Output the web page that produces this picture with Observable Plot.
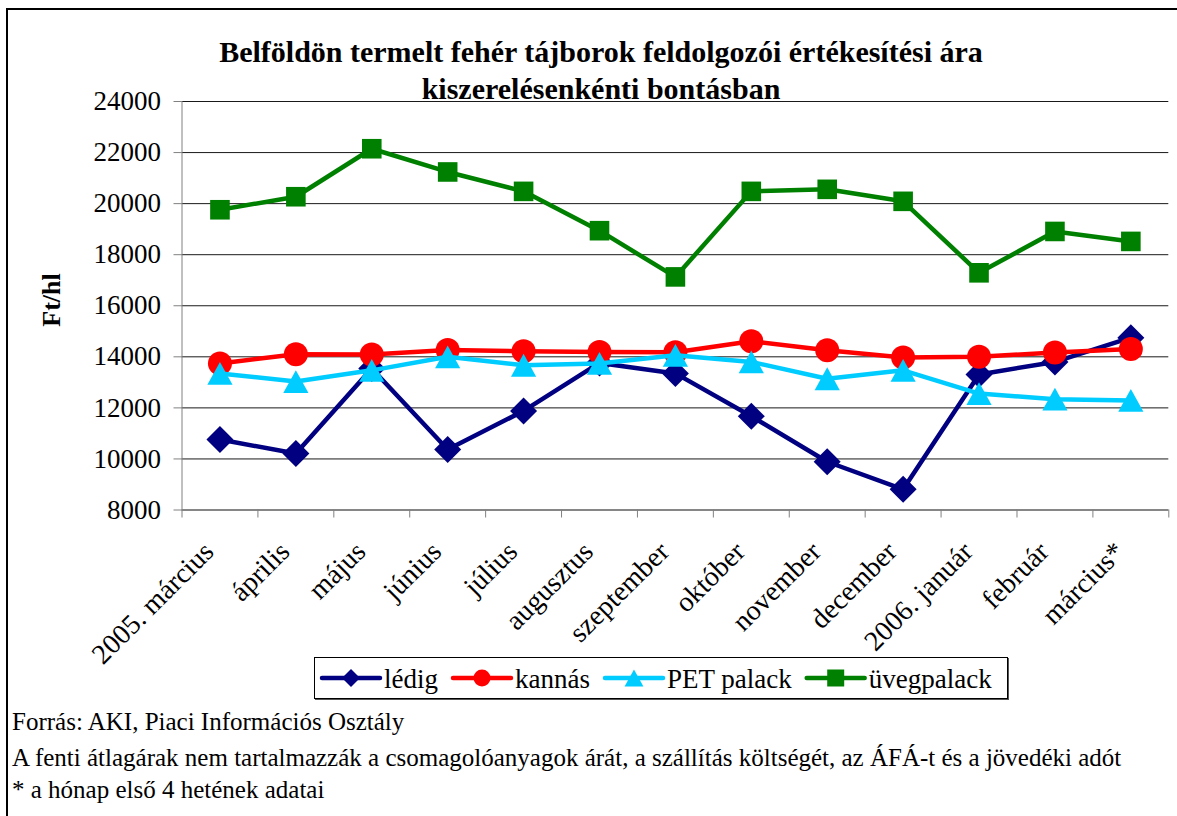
<!DOCTYPE html>
<html>
<head>
<meta charset="utf-8">
<script src="https://cdn.jsdelivr.net/npm/d3@7"></script>
<script src="https://cdn.jsdelivr.net/npm/@observablehq/plot@0.6"></script>
<style>
  body { margin: 0; background: #fff; }
  #wrap { position: relative; width: 1177px; height: 816px; overflow: hidden; background: #fff;
          font-family: "Liberation Serif", "Times New Roman", serif; color: #000; }
  #border { position: absolute; left: 6px; top: 8px; width: 1200px; height: 900px;
            border-left: 2px solid #000; border-top: 2px solid #000; }
  #chart { position: absolute; left: 0; top: 0; }
  .title { position: absolute; left: 0; width: 1202px; text-align: center; font-weight: bold;
           font-size: 30px; line-height: 30px; white-space: nowrap; }
  #ylabel { position: absolute; left: 52px; top: 300px; transform: translate(-50%, -50%) rotate(-90deg);
            font-weight: bold; font-size: 26px; line-height: 26px; white-space: nowrap; }
  .foot { position: absolute; left: 12px; font-size: 25px; line-height: 25px; white-space: nowrap; }
  #legend { position: absolute; left: 314px; top: 657px; width: 694px; height: 42px; box-sizing: border-box;
            border: 1px solid #000; box-shadow: 1px 1px 0 #555; background: #fff; }
</style>
</head>
<body>
<div id="wrap">
  <div id="border"></div>
  <div id="chart"></div>
  <div class="title" style="top:37px">Belföldön termelt fehér tájborok feldolgozói értékesítési ára</div>
  <div class="title" style="top:74px">kiszerelésenkénti bontásban</div>
  <div id="ylabel">Ft/hl</div>
  <div id="legend"></div>
  <div class="foot" style="top:709px">Forrás: AKI, Piaci Információs Osztály</div>
  <div class="foot" style="top:745px">A fenti átlagárak nem tartalmazzák a csomagolóanyagok árát, a szállítás költségét, az ÁFÁ-t és a jövedéki adót</div>
  <div class="foot" style="top:777px">* a hónap első 4 hetének adatai</div>
</div>
<script>
// ---- data ----
const months = ["2005. március", "április", "május", "június", "július", "augusztus", "szeptember",
                "október", "november", "december", "2006. január", "február", "március*"];
const seriesNames = ["lédig", "kannás", "PET palack", "üvegpalack"];
const ledig  = [10760, 10210, 13540, 10370, 11880, 13760, 13350, 11670,  9890,  8810, 13310, 13800, 14750];
const kannas = [13740, 14100, 14090, 14270, 14220, 14190, 14180, 14610, 14260, 13970, 14000, 14170, 14310];
const pet    = [13350, 13030, 13470, 14000, 13670, 13740, 14060, 13800, 13140, 13470, 12560, 12340, 12290];
const uveg   = [19760, 20270, 22150, 21240, 20480, 18940, 17130, 20480, 20560, 20090, 17290, 18910, 18520];
const yTicks = [8000, 10000, 12000, 14000, 16000, 18000, 20000, 22000, 24000];
const seriesColors = ["#000080", "#FF0000", "#00CCFF", "#008000"];

// ---- symbols (r = half-extent) ----
const rOf = size => Math.sqrt(size / Math.PI);
const diamond = {draw(c, s) { const r = rOf(s); c.moveTo(0, -r); c.lineTo(r, 0); c.lineTo(0, r); c.lineTo(-r, 0); c.closePath(); }};
const circle = {draw(c, s) { const r = rOf(s); c.moveTo(r, 0); c.arc(0, 0, r, 0, 2 * Math.PI); c.closePath(); }};
const triangle = {draw(c, s) { const r = rOf(s); c.moveTo(0, -0.95 * r); c.lineTo(1.05 * r, 0.95 * r); c.lineTo(-1.05 * r, 0.95 * r); c.closePath(); }};
const square = {draw(c, s) { const r = rOf(s); c.rect(-r, -r, 2 * r, 2 * r); }};
const symbols = [diamond, circle, triangle, square];
const radii = [13.5, 12, 12, 9.8];
const legendRadii = [9, 8.5, 9, 8.5];

const values = [ledig, kannas, pet, uveg];
const rows = seriesNames.flatMap((s, k) => values[k].map((v, i) => ({s, i, v})));

const marks = [
  Plot.gridY(yTicks, {stroke: "#000", strokeOpacity: 0.9, strokeWidth: 1}),
  Plot.ruleY([8000], {stroke: "#808080"}),
  Plot.ruleX([-0.5], {stroke: "#808080"}),
  Plot.axisY(yTicks, {tickSize: 8, tickPadding: 13, tickFormat: d => String(d), stroke: "#808080",
                      fill: "#000", fontSize: 27, label: null}),
  Plot.axisX(d3.range(-0.5, 13, 1), {tickSize: 8, tickFormat: () => "", stroke: "#808080", label: null}),
  Plot.axisX(d3.range(13), {tickSize: 0, tickPadding: 37, tickRotate: -45, dx: -11,
                            tickFormat: i => months[i], fill: "#000", fontSize: 28, label: null})
];
seriesNames.forEach((s, k) => {
  const d = rows.filter(r => r.s === s);
  marks.push(Plot.line(d, {x: "i", y: "v", stroke: seriesColors[k], strokeWidth: 4.5}));
  marks.push(Plot.dot(d, {x: "i", y: "v", fill: seriesColors[k], symbol: symbols[k], r: radii[k], stroke: "none"}));
});

const chart = Plot.plot({
  width: 1177, height: 650,
  marginTop: 101, marginBottom: 140.5, marginLeft: 181.5, marginRight: 8.7,
  x: {domain: [-0.5, 12.5], label: null},
  y: {domain: [8000, 24000], label: null},
  style: {fontFamily: "'Liberation Serif', 'Times New Roman', serif", fontSize: "27px", color: "#000",
          background: "transparent", overflow: "visible"},
  marks
});
document.getElementById("chart").appendChild(chart);

// ---- legend ----
const lw = 692, lh = 40;
const lsvg = d3.select("#legend").append("svg").attr("width", lw).attr("height", lh)
  .style("font-family", "'Liberation Serif', 'Times New Roman', serif").style("font-size", "27px");
let x0 = 7;
seriesNames.forEach((s, k) => {
  const g = lsvg.append("g").attr("transform", `translate(${x0},20)`);
  g.append("line").attr("x1", 0).attr("x2", 58).attr("y1", 0).attr("y2", 0)
    .attr("stroke", seriesColors[k]).attr("stroke-width", 4.5).attr("stroke-linecap", "round");
  g.append("path").attr("transform", "translate(29,0)")
    .attr("d", d3.symbol(symbols[k], legendRadii[k] * legendRadii[k] * Math.PI)())
    .attr("fill", seriesColors[k]);
  const t = g.append("text").attr("x", 62).attr("y", 9.5).attr("fill", "#000").text(s);
  x0 += 62 + t.node().getComputedTextLength() + 15;
});
</script>
</body>
</html>
